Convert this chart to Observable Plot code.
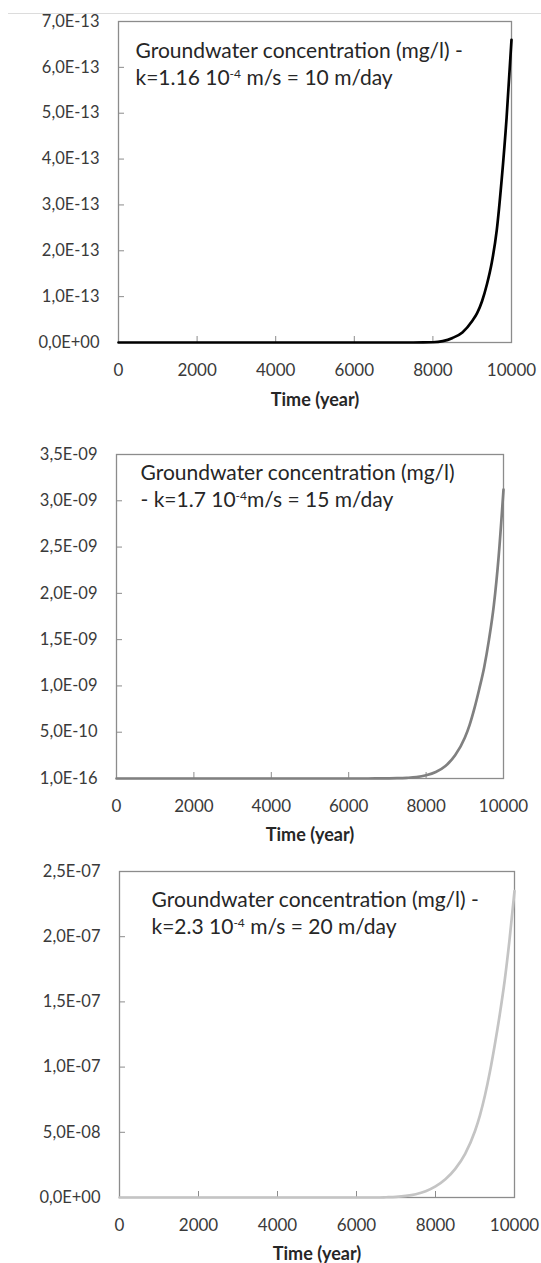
<!DOCTYPE html>
<html><head><meta charset="utf-8">
<script src="https://cdn.jsdelivr.net/npm/d3@7"></script>
<script src="https://cdn.jsdelivr.net/npm/@observablehq/plot@0.6"></script>
<style>
html,body{margin:0;padding:0;background:#fff;}
#wrap{position:relative;width:541px;height:1263px;overflow:hidden;background:#fff;}
#sep{position:absolute;top:13px;left:8px;right:0;height:0;border-top:1px solid #dcdcdc;}
#wrap svg{display:block;}
</style></head><body><div id="wrap"><div id="sep"></div></div>
<script>
// ---- data ----
const years  = [0, 1000, 2000, 3000, 4000, 5000, 6000, 6500, 6750, 7000, 7250, 7500, 7750, 8000, 8250, 8500, 8750, 9000, 9125, 9250, 9375, 9500, 9625, 9750, 9875, 10000];
const conc10 = [0, 0, 0, 0, 0, 0, 0, 0, 0, 0, 0, 0, 0.001e-13, 0.005e-13, 0.03e-13, 0.1e-13, 0.22e-13, 0.47e-13, 0.64e-13, 0.9e-13, 1.27e-13, 1.75e-13, 2.45e-13, 3.55e-13, 4.9e-13, 6.6e-13];
const conc15 = [0, 0, 0, 0, 0, 0, 0, 0, 0.0007e-9, 0.0015e-9, 0.003e-9, 0.007e-9, 0.015e-9, 0.035e-9, 0.07e-9, 0.135e-9, 0.25e-9, 0.44e-9, 0.58e-9, 0.76e-9, 0.97e-9, 1.2e-9, 1.5e-9, 1.87e-9, 2.4e-9, 3.12e-9];
const conc20 = [0, 0, 0, 0, 0, 0, 0, 0, 0.002e-7, 0.005e-7, 0.012e-7, 0.025e-7, 0.048e-7, 0.085e-7, 0.14e-7, 0.22e-7, 0.335e-7, 0.51e-7, 0.63e-7, 0.78e-7, 0.96e-7, 1.17e-7, 1.4e-7, 1.66e-7, 1.98e-7, 2.35e-7];

const xTicks = [0, 2000, 4000, 6000, 8000, 10000];
const yTicks10  = [0, 1e-13, 2e-13, 3e-13, 4e-13, 5e-13, 6e-13, 7e-13];
const yLabels10 = ["0,0E+00", "1,0E-13", "2,0E-13", "3,0E-13", "4,0E-13", "5,0E-13", "6,0E-13", "7,0E-13"];
const yTicks15  = [1e-16, 5e-10, 1e-9, 1.5e-9, 2e-9, 2.5e-9, 3e-9, 3.5e-9];
const yLabels15 = ["1,0E-16", "5,0E-10", "1,0E-09", "1,5E-09", "2,0E-09", "2,5E-09", "3,0E-09", "3,5E-09"];
const yTicks20  = [0, 5e-8, 1e-7, 1.5e-7, 2e-7, 2.5e-7];
const yLabels20 = ["0,0E+00", "5,0E-08", "1,0E-07", "1,5E-07", "2,0E-07", "2,5E-07"];

const xTitle = "Time (year)";
const note10 = "Groundwater concentration (mg/l) -\nk=1.16 10⁻⁴ m/s = 10 m/day";
const note15 = "Groundwater concentration (mg/l)\n- k=1.7 10⁻⁴m/s = 15 m/day";
const note20 = "Groundwater concentration (mg/l) -\nk=2.3 10⁻⁴ m/s = 20 m/day";

const colors = ["#000000", "#808080", "#c4c4c4"];

// ---- panels ----
const panels = [
  {values: conc10, yTicks: yTicks10, yLabels: yLabels10, note: note10, color: colors[0],
   height: 420, marginTop: 21, marginBottom: 78, marginLeft: 118, marginRight: 30, noteDx: 17, noteDy: 17},
  {values: conc15, yTicks: yTicks15, yLabels: yLabels15, note: note15, color: colors[1],
   height: 425, marginTop: 34, marginBottom: 67, marginLeft: 116, marginRight: 38, noteDx: 24, noteDy: 6},
  {values: conc20, yTicks: yTicks20, yLabels: yLabels20, note: note20, color: colors[2],
   height: 418, marginTop: 26, marginBottom: 66, marginLeft: 119, marginRight: 27, noteDx: 32, noteDy: 16}
];

const W = 541;
const NS = "http://www.w3.org/2000/svg";
const wrap = document.getElementById("wrap");
for (const p of panels) {
  const data = years.map((t, i) => ({t, c: p.values[i]}));
  const plotW = W - p.marginLeft - p.marginRight;
  const plotH = p.height - p.marginTop - p.marginBottom;
  const svg = Plot.plot({
    width: W, height: p.height,
    marginTop: p.marginTop, marginBottom: p.marginBottom,
    marginLeft: p.marginLeft, marginRight: p.marginRight,
    style: {fontFamily: "Lato, 'Open Sans', sans-serif", background: "white", overflow: "visible"},
    x: {domain: [0, 10000]},
    y: {domain: [p.yTicks[0], p.yTicks[p.yTicks.length - 1]]},
    marks: [
      Plot.tickY(p.yTicks.slice(1, -1), {y: d => d, stroke: "#8c8c8c", insetRight: plotW - 6}),
      Plot.tickX(xTicks.slice(1, -1), {x: d => d, stroke: "#8c8c8c", insetTop: plotH - 6}),
      Plot.frame({stroke: "#8c8c8c", strokeWidth: 1.3}),
      Plot.axisY({ticks: p.yTicks, tickFormat: d => p.yLabels[p.yTicks.indexOf(d)], tickSize: 0, tickPadding: 19,
                  fontSize: 16.5, color: "#3a3a3a", label: null}),
      Plot.axisX({ticks: xTicks, tickFormat: d => String(d), tickSize: 0, tickPadding: 21,
                  fontSize: 17, color: "#3a3a3a", label: null}),
      Plot.line(data, {x: "t", y: "c", stroke: p.color, strokeWidth: 2.7, curve: "monotone-x"}),
      Plot.text([p.note], {text: d => d, frameAnchor: "top-left", dx: p.noteDx, dy: p.noteDy,
                  lineAnchor: "top", textAnchor: "start", fontSize: 21, lineHeight: 1.29, fill: "#262626"}),
      Plot.text([xTitle], {text: d => d, frameAnchor: "bottom", dy: p.marginBottom < 70 ? 57 : 58,
                  lineAnchor: "middle", fontSize: 18, fontWeight: "bold", fill: "#262626"})
    ]
  });
  // render the "10⁻⁴" exponent as a small raised "-4"
  for (const ts of Array.from(svg.querySelectorAll("text tspan"))) {
    const s = ts.textContent;
    const k = s.indexOf("⁻⁴");
    if (k < 0) continue;
    ts.textContent = s.slice(0, k);
    const sup = document.createElementNS(NS, "tspan");
    sup.setAttribute("baseline-shift", "super");
    sup.setAttribute("font-size", "12");
    sup.textContent = "-4";
    const rest = document.createElementNS(NS, "tspan");
    rest.textContent = s.slice(k + 2);
    ts.append(sup, rest);
  }
  wrap.appendChild(svg);
}
</script>
</body></html>
